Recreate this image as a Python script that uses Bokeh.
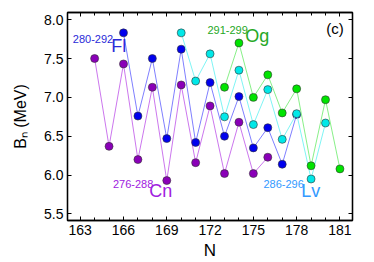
from bokeh.plotting import figure
from bokeh.models import LinearAxis, FixedTicker, PrintfTickFormatter, Label, Range1d, CustomJSTickFormatter
from bokeh.embed import file_html
from bokeh.resources import INLINE

# ---- data ----
cn_N = list(range(164, 177))
cn_B = [7.50, 6.37, 7.43, 6.20, 7.13, 5.93, 7.16, 6.16, 6.89, 6.02, 6.68, 6.02, 6.23]
fl_N = list(range(166, 179))
fl_B = [7.83, 6.76, 7.50, 6.47, 7.62, 6.42, 7.19, 6.50, 7.01, 6.35, 6.61, 6.14, 6.78]
lv_N = list(range(170, 181))
lv_B = [7.83, 7.21, 7.56, 6.75, 7.35, 6.65, 7.10, 6.46, 6.79, 5.95, 6.67]
og_N = list(range(173, 182))
og_B = [7.13, 7.70, 7.00, 7.29, 6.80, 7.11, 6.12, 6.97, 6.08]

x_ticks = [163, 166, 169, 172, 175, 178, 181]
x_minor = list(range(162, 183))
y_ticks = [5.5, 6.0, 6.5, 7.0, 7.5, 8.0]

FONT = "Liberation Sans"

p = figure(width=374, height=262,
           x_range=Range1d(162.12, 181.87), y_range=Range1d(5.416, 8.092),
           output_backend="svg", toolbar_location=None,
           min_border_left=67, min_border_right=22, min_border_top=12, min_border_bottom=37)
p.xgrid.visible = False
p.ygrid.visible = False
p.outline_line_color = "black"
p.outline_line_width = 1.3
p.background_fill_color = "white"
p.border_fill_color = "white"

def style_axis(ax, ticks, minor, show_labels):
    ax.ticker = FixedTicker(ticks=ticks, minor_ticks=minor)
    ax.axis_line_color = "black"
    ax.axis_line_width = 1.3
    ax.major_tick_in = 4
    ax.major_tick_out = 0
    ax.minor_tick_in = 3
    ax.minor_tick_out = 0
    ax.major_tick_line_color = "black"
    ax.minor_tick_line_color = "black"
    ax.major_label_text_font = FONT
    ax.major_label_text_color = "black"
    ax.major_label_text_font_size = "14px"
    if show_labels:
        ax.major_label_standoff = 4
    else:
        ax.formatter = CustomJSTickFormatter(code="return '';")
        ax.major_label_standoff = 0

xb = p.xaxis[0]
style_axis(xb, x_ticks, x_minor, True)
xb.axis_label = "N"
xb.axis_label_text_font = FONT
xb.axis_label_text_font_size = "17px"
xb.axis_label_text_font_style = "normal"
xb.axis_label_text_color = "black"
xb.axis_label_standoff = 3

yl = p.yaxis[0]
style_axis(yl, y_ticks, [], True)
yl.formatter = PrintfTickFormatter(format="%.1f")
yl.axis_label = "B\u2099 (MeV)"
yl.axis_label_text_font = FONT
yl.axis_label_text_font_size = "16px"
yl.axis_label_text_font_style = "normal"
yl.axis_label_text_color = "black"
yl.axis_label_standoff = 12

xt = LinearAxis()
style_axis(xt, x_ticks, x_minor, False)
p.add_layout(xt, "above")
yr = LinearAxis()
style_axis(yr, y_ticks, [], False)
p.add_layout(yr, "right")

series = [
    (cn_N, cn_B, "#cc77ee", "#8a00b8"),
    (fl_N, fl_B, "#7f7fff", "#0000ee"),
    (lv_N, lv_B, "#7ff5f5", "#00e8e8"),
    (og_N, og_B, "#88f088", "#00e400"),
]
for xs, ys, lc, mc in series:
    p.line(xs, ys, line_color=lc, line_width=1)
    p.scatter(xs, ys, size=8, fill_color=mc, line_color="#333333", line_width=0.6)

def lab(x, y, t, size, color):
    p.add_layout(Label(x=x, y=y, text=t, text_font=FONT, text_font_size=size,
                       text_color=color, text_baseline="middle", text_align="left"))

lab(162.49, 7.745, "280-292", "11px", "#2a2ad8")
lab(165.15, 7.658, "Fl", "18px", "#2a2ad8")
lab(171.82, 7.865, "291-299", "11px", "#26a826")
lab(174.43, 7.796, "Og", "18px", "#26a826")
lab(165.27, 5.880, "276-288", "11px", "#a020e0")
lab(167.78, 5.801, "Cn", "18px", "#a020e0")
lab(175.70, 5.882, "286-296", "11px", "#3399ff")
lab(178.32, 5.800, "Lv", "18px", "#3399ff")
lab(180.05, 7.884, "(c)", "15px", "black")

open("out.html", "w").write(file_html(p, INLINE))
